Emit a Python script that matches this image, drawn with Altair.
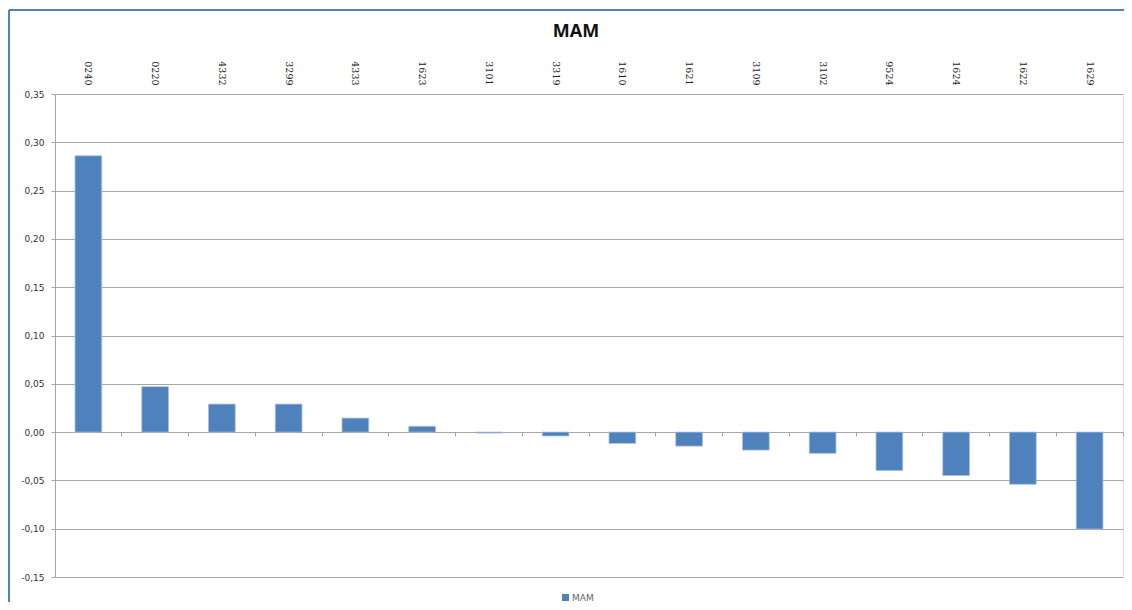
import altair as alt
import pandas as pd

codes = ["0240", "0220", "4332", "3299", "4333", "1623", "3101", "3319",
         "1610", "1621", "3109", "3102", "9524", "1624", "1622", "1629"]
values = [0.286, 0.047, 0.029, 0.029, 0.0145, 0.006, -0.001, -0.004,
          -0.0117, -0.0145, -0.0186, -0.022, -0.0397, -0.0449, -0.054, -0.1004]
series = ["MAM"] * len(codes)
y_ticks = [-0.15, -0.10, -0.05, 0.0, 0.05, 0.10, 0.15, 0.20, 0.25, 0.30, 0.35]

df = pd.DataFrame({"code": codes, "value": values, "series": series})

W, H = 1068, 483
BLUE = "#4F81BD"
GRID = "#a6a6a6"

xscale = alt.Scale(paddingInner=0.6, paddingOuter=0.3)
yscale = alt.Scale(domain=[-0.15, 0.35], nice=False, zero=False)

label_expr = "replace(replace(format(datum.value, '.2f'), '.', ','), '\u2212', '-')"

bars = alt.Chart(df).mark_bar(stroke="#a7bfde", strokeWidth=0.8).encode(
    x=alt.X("code:N", sort=codes, scale=xscale, title=None,
            axis=alt.Axis(orient="top", labelAngle=90, labelAlign="right",
                          labelBaseline="middle", ticks=False, domain=False,
                          labelPadding=9, labelFont="DejaVu Serif",
                          labelFontSize=9.5, labelColor="#222222", grid=False)),
    y=alt.Y("value:Q", scale=yscale, title=None,
            axis=alt.Axis(values=y_ticks, labelExpr=label_expr, grid=True,
                          gridColor=GRID, gridWidth=1, domainColor=GRID,
                          tickColor=GRID, tickSize=4, labelPadding=7,
                          labelFont="DejaVu Sans", labelFontSize=9,
                          labelColor="#333333")),
    color=alt.Color("series:N", scale=alt.Scale(range=[BLUE]), title=None,
                    legend=alt.Legend(orient="none", legendX=506, legendY=499,
                                      symbolType="square", symbolSize=50,
                                      symbolStrokeWidth=0, labelFont="DejaVu Sans",
                                      labelFontSize=9, labelColor="#666666",
                                      labelOffset=2)),
)

ticks = alt.Chart(df).mark_bar(opacity=0).encode(
    x=alt.X("code:N", sort=codes, scale=xscale, title=None,
            axis=alt.Axis(orient="bottom", offset=-145, labels=False, domain=False,
                          ticks=True, tickSize=4, tickColor=GRID, bandPosition=1.75,
                          grid=False)),
    y=alt.Y("value:Q", scale=yscale),
)

frame_df = pd.DataFrame({"a": [0]})
frame_left = alt.Chart(frame_df).mark_rule(color=BLUE, strokeWidth=2).encode(
    x=alt.value(-46), y=alt.value(-84), y2=alt.value(H + 25))
frame_top = alt.Chart(frame_df).mark_rule(color=BLUE, strokeWidth=2).encode(
    x=alt.value(-46), x2=alt.value(W + 1), y=alt.value(-84))

chart = alt.layer(frame_left, frame_top, ticks, bars).resolve_axis(
    x="independent"
).properties(
    width=W, height=H,
    autosize=alt.AutoSizeParams(type="none"),
    padding={"left": 47, "top": 86, "right": 1, "bottom": 25},
    title=alt.Title("MAM", font="Open Sans", fontSize=18, fontWeight="bold",
                    color="#111111", offset=-32, dx=-13),
).configure_view(stroke=None).configure(background="white")

chart.save("out.html", embed_options={"renderer": "svg", "actions": False})
